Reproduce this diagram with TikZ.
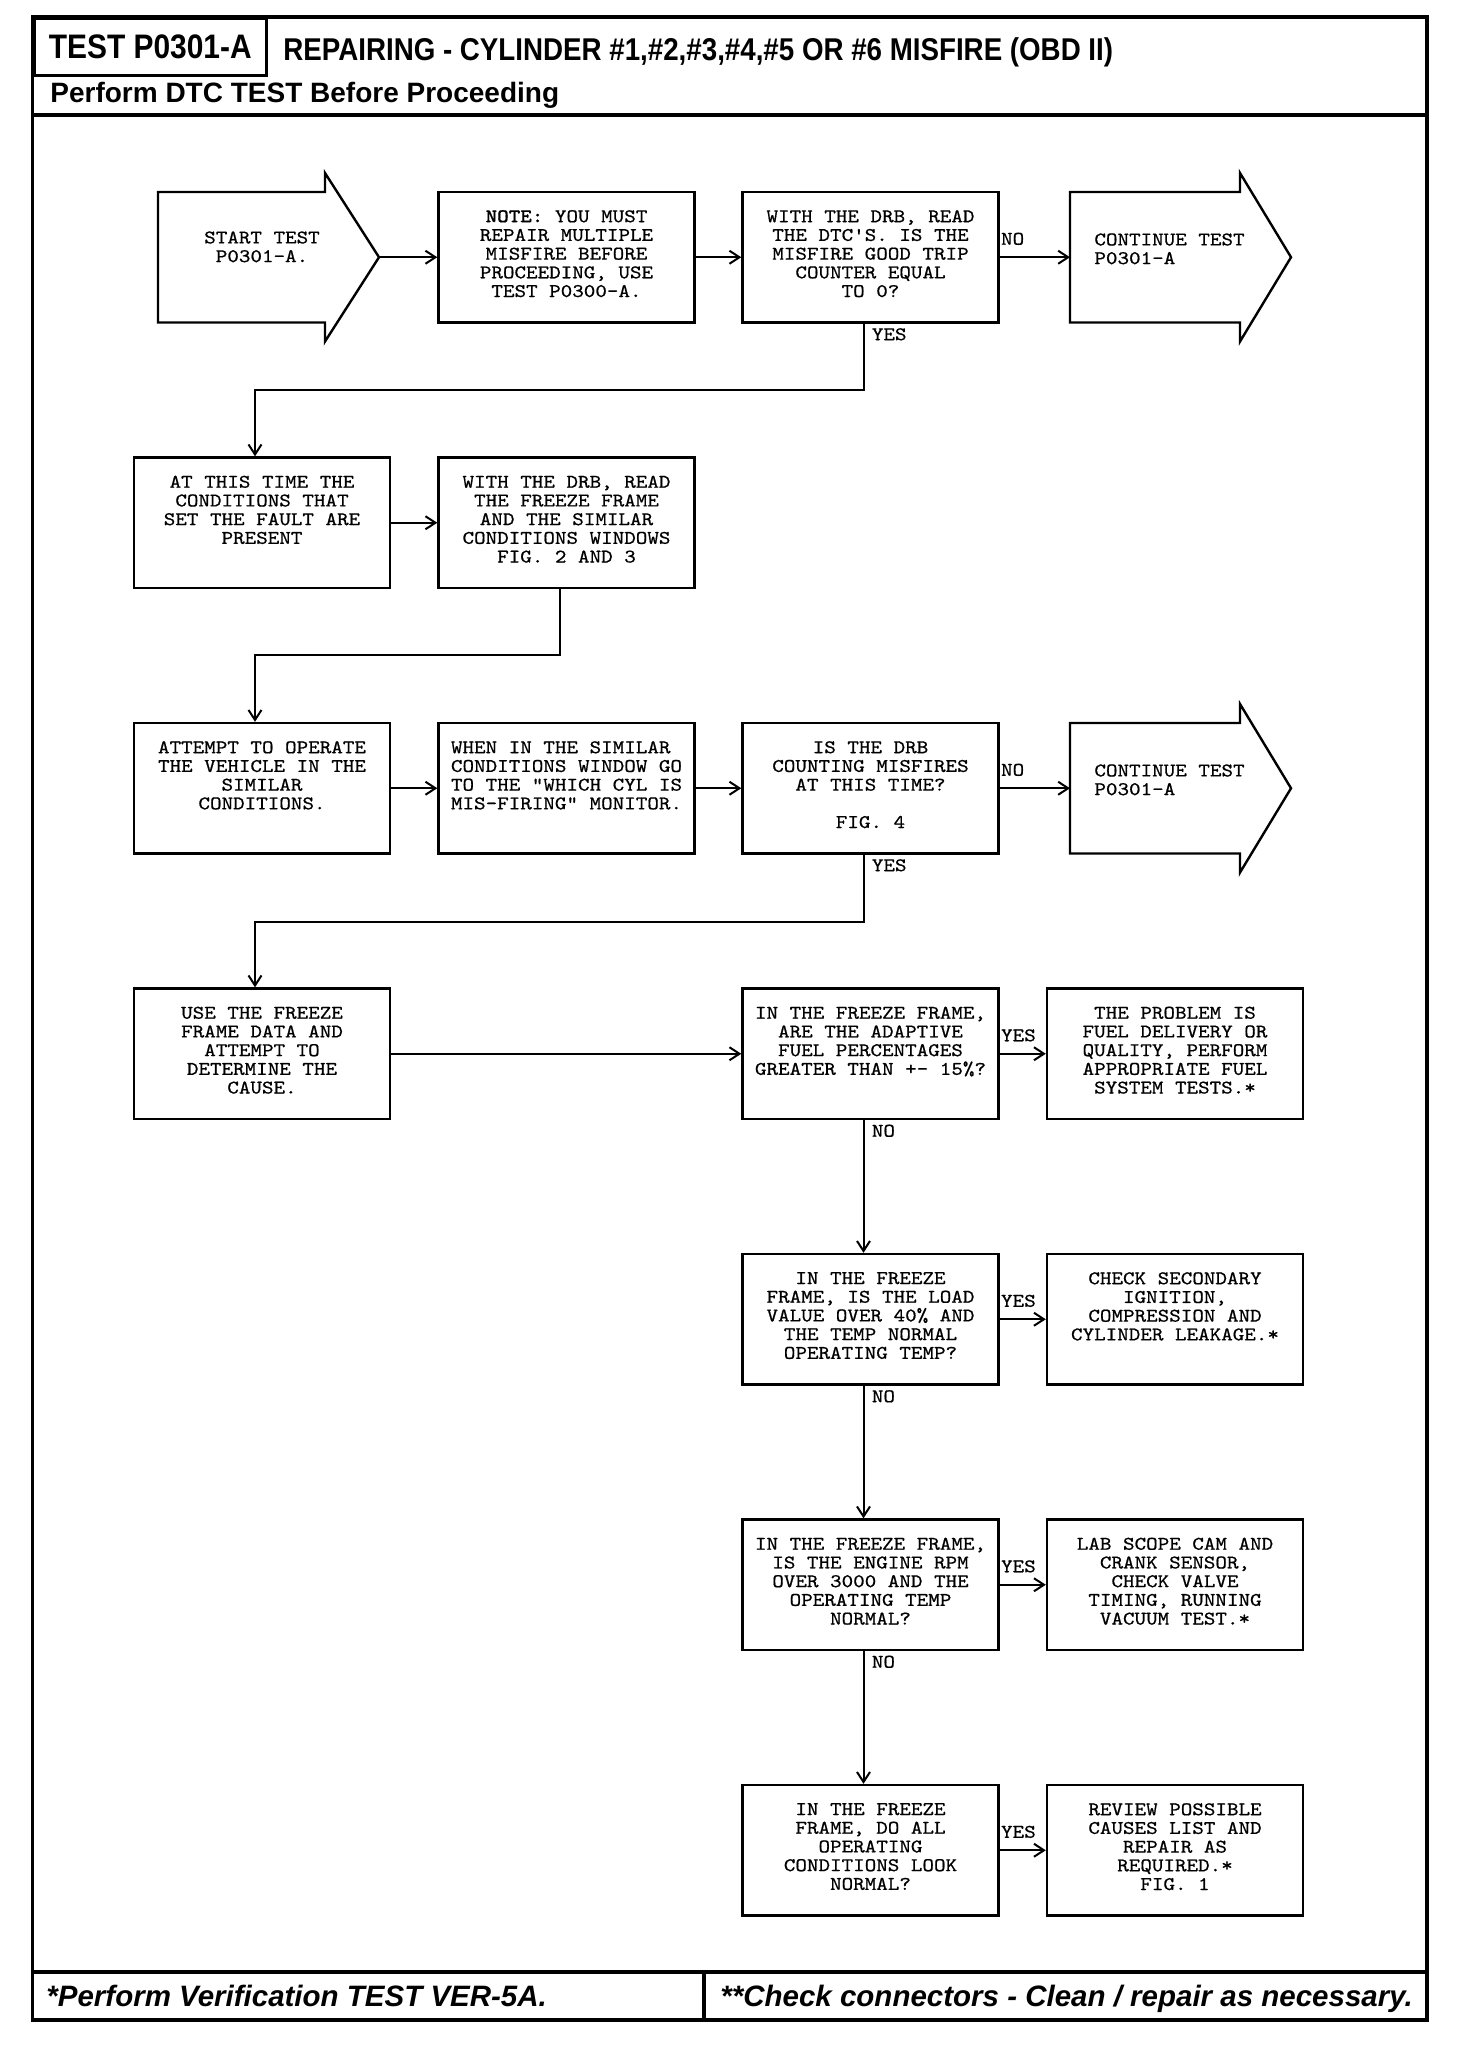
\documentclass[tikz,border=0pt]{standalone}
\usepackage{fontspec}
\setmainfont{Liberation Sans}
\newfontfamily\headfont{Liberation Sans}[FakeStretch=0.88]
\newfontfamily\typefont{lmmono10-regular.otf}[FakeStretch=1.14, FakeBold=0.7, BoldFont=lmmonolt10-bold.otf]
\newcommand\courier{\typefont\fontsize{9.65}{9.35}\selectfont}
\usetikzlibrary{arrows.meta,positioning}

\tikzset{
  box/.style={draw, line width=1.2pt, minimum width=128pt, minimum height=65.25pt, inner sep=0pt},
  txt/.style={font=\courier, align=center, inner sep=0pt},
  lbl/.style={font=\courier, inner sep=0pt, anchor=base west},
  flow/.style={->, line width=1pt},
  frame/.style={line width=1.75pt},
  banner/.style={line width=1.2pt, line join=miter},
}

\begin{document}
\begin{tikzpicture}[x=0.5pt, y=-0.5pt, >={Straight Barb[length=5pt,width=6.5pt]}]
    \useasboundingbox (0,0) rectangle (1456,2048);
    % Draw the frame, header and footer
    \draw[frame] (32.5,17) rectangle (1427,2020);
    \draw[frame] (32.5,115) -- (1427,115);
    \draw[frame] (32.5,1972) -- (1427,1972);
    \draw[frame] (704,1972) -- (704,2020);
    \node[draw, line width=1.5pt, anchor=north west, inner sep=0pt, minimum width=116.25pt, minimum height=28.5pt,
      font=\headfont\bfseries\fontsize{17}{17}\selectfont] (tst) at (32.5,17) {TEST P0301-A};
    \node[anchor=base west, inner sep=0pt, font=\headfont\bfseries\fontsize{15.75}{15.75}\selectfont] (ttl) at (283,61)
      {REPAIRING - CYLINDER \#1,\#2,\#3,\#4,\#5 OR \#6 MISFIRE (OBD II)};
    \node[anchor=base west, inner sep=0pt, font=\bfseries\fontsize{14}{14}\selectfont] (dtc) at (50,103)
      {Perform DTC TEST Before Proceeding};
    \node[anchor=base west, inner sep=0pt, font=\bfseries\itshape\fontsize{14.75}{14.75}\selectfont] (ver) at (46,2006)
      {*Perform Verification TEST VER-5A.};
    \node[anchor=base west, inner sep=0pt, font=\bfseries\itshape\fontsize{14.75}{14.75}\selectfont] (conn) at (720,2006)
      {**Check connectors - Clean / repair as necessary.};

    % Row 1
    \draw[banner] (158,192) -- (325,192) -- (325,173) -- (379,257.25) -- (325,341.5) -- (325,322.5) -- (158,322.5) -- cycle;
    \coordinate (start) at (379,257.25);
    \node[txt, anchor=north] (start txt) at (262,231) {START TEST\\P0301-A.};
    \node[box] (note) at (566.5,257.25) {};
    \node[txt, below=9.5pt of note.north] (note txt) {\textbf{NOTE:} YOU MUST\\REPAIR MULTIPLE\\MISFIRE BEFORE\\PROCEEDING, USE\\TEST P0300-A.};
    \node[box] (drb) at (870.5,257.25) {};
    \node[txt, below=9.5pt of drb.north] (drb txt) {WITH THE DRB, READ\\THE DTC'S. IS THE\\MISFIRE GOOD TRIP\\COUNTER EQUAL\\TO 0?};
    \draw[banner] (1070,192) -- (1240,192) -- (1240,173) -- (1291,257.25) -- (1240,341.5) -- (1240,322.5) -- (1070,322.5) -- cycle;
    \coordinate (cont1) at (1070,257.25);
    \node[txt, align=left, anchor=north west] (cont1 txt) at (1094,233) {CONTINUE TEST\\P0301-A};

    % Row 2
    \node[box] (cond) at (262,522.75) {};
    \node[txt, below=9.5pt of cond.north] (cond txt) {AT THIS TIME THE\\CONDITIONS THAT\\SET THE FAULT ARE\\PRESENT};
    \node[box] (ffrm) at (566.5,522.75) {};
    \node[txt, below=9.5pt of ffrm.north] (ffrm txt) {WITH THE DRB, READ\\THE FREEZE FRAME\\AND THE SIMILAR\\CONDITIONS WINDOWS\\FIG. 2 AND 3};

    % Row 3
    \node[box] (oper) at (262,788.25) {};
    \node[txt, below=9.5pt of oper.north] (oper txt) {ATTEMPT TO OPERATE\\THE VEHICLE IN THE\\SIMILAR\\CONDITIONS.};
    \node[box] (mntr) at (566.5,788.25) {};
    \node[txt, align=left, below=9.5pt of mntr.north] (mntr txt) {WHEN IN THE SIMILAR\\CONDITIONS WINDOW GO\\TO THE "WHICH CYL IS\\MIS-FIRING" MONITOR.};
    \node[box] (count) at (870.5,788.25) {};
    \node[txt, below=9.5pt of count.north] (count txt) {IS THE DRB\\COUNTING MISFIRES\\AT THIS TIME?\\[9.35pt]FIG. 4};
    \draw[banner] (1070,723) -- (1240,723) -- (1240,704) -- (1291,788.25) -- (1240,872.5) -- (1240,853.5) -- (1070,853.5) -- cycle;
    \coordinate (cont2) at (1070,788.25);
    \node[txt, align=left, anchor=north west] (cont2 txt) at (1094,764) {CONTINUE TEST\\P0301-A};

    % Row 4
    \node[box] (use) at (262,1053.75) {};
    \node[txt, below=9.5pt of use.north] (use txt) {USE THE FREEZE\\FRAME DATA AND\\ATTEMPT TO\\DETERMINE THE\\CAUSE.};
    \node[box] (fuel) at (870.5,1053.75) {};
    \node[txt, below=9.5pt of fuel.north] (fuel txt) {IN THE FREEZE FRAME,\\ARE THE ADAPTIVE\\FUEL PERCENTAGES\\GREATER THAN +- 15\%?};
    \node[box] (fdel) at (1175,1053.75) {};
    \node[txt, below=9.5pt of fdel.north] (fdel txt) {THE PROBLEM IS\\FUEL DELIVERY OR\\QUALITY, PERFORM\\APPROPRIATE FUEL\\SYSTEM TESTS.*};

    % Row 5
    \node[box] (load) at (870.5,1319.25) {};
    \node[txt, below=9.5pt of load.north] (load txt) {IN THE FREEZE\\FRAME, IS THE LOAD\\VALUE OVER 40\% AND\\THE TEMP NORMAL\\OPERATING TEMP?};
    \node[box] (ignt) at (1175,1319.25) {};
    \node[txt, below=9.5pt of ignt.north] (ignt txt) {CHECK SECONDARY\\IGNITION,\\COMPRESSION AND\\CYLINDER LEAKAGE.*};

    % Row 6
    \node[box] (rpm) at (870.5,1584.75) {};
    \node[txt, below=9.5pt of rpm.north] (rpm txt) {IN THE FREEZE FRAME,\\IS THE ENGINE RPM\\OVER 3000 AND THE\\OPERATING TEMP\\NORMAL?};
    \node[box] (scope) at (1175,1584.75) {};
    \node[txt, below=9.5pt of scope.north] (scope txt) {LAB SCOPE CAM AND\\CRANK SENSOR,\\CHECK VALVE\\TIMING, RUNNING\\VACUUM TEST.*};

    % Row 7
    \node[box] (look) at (870.5,1850.25) {};
    \node[txt, below=9.5pt of look.north] (look txt) {IN THE FREEZE\\FRAME, DO ALL\\OPERATING\\CONDITIONS LOOK\\NORMAL?};
    \node[box] (rvw) at (1175,1850.25) {};
    \node[txt, below=9.5pt of rvw.north] (rvw txt) {REVIEW POSSIBLE\\CAUSES LIST AND\\REPAIR AS\\REQUIRED.*\\FIG. 1};

    % Draw the connectors
    \draw[flow] (start) -- (note);
    \draw[flow] (note) -- (drb);
    \draw[flow] (drb) -- (cont1);
    \node[lbl] (drb no) at ([xshift=0.5pt,yshift=6.25pt]drb.east) {NO};
    \draw[flow] ([xshift=-3.5pt]drb.south) -- ++(0,66) -| ([xshift=-3.5pt]cond.north);
    \node[lbl] (drb yes) at ([xshift=0.5pt,yshift=-8.25pt]drb.south) {YES};
    \draw[flow] (cond) -- (ffrm);
    \draw[flow] ([xshift=-3.5pt]ffrm.south) -- ++(0,66) -| ([xshift=-3.5pt]oper.north);
    \draw[flow] (oper) -- (mntr);
    \draw[flow] (mntr) -- (count);
    \draw[flow] (count) -- (cont2);
    \node[lbl] (count no) at ([xshift=0.5pt,yshift=6.25pt]count.east) {NO};
    \draw[flow] ([xshift=-3.5pt]count.south) -- ++(0,67) -| ([xshift=-3.5pt]use.north);
    \node[lbl] (count yes) at ([xshift=0.5pt,yshift=-8.25pt]count.south) {YES};
    \draw[flow] (use) -- (fuel);
    \draw[flow] (fuel) -- (fdel);
    \node[lbl] (fuel yes) at ([xshift=0.5pt,yshift=6.25pt]fuel.east) {YES};
    \draw[flow] ([xshift=-3.5pt]fuel.south) -- ([xshift=-3.5pt]load.north);
    \node[lbl] (fuel no) at ([xshift=0.5pt,yshift=-8.25pt]fuel.south) {NO};
    \draw[flow] (load) -- (ignt);
    \node[lbl] (load yes) at ([xshift=0.5pt,yshift=6.25pt]load.east) {YES};
    \draw[flow] ([xshift=-3.5pt]load.south) -- ([xshift=-3.5pt]rpm.north);
    \node[lbl] (load no) at ([xshift=0.5pt,yshift=-8.25pt]load.south) {NO};
    \draw[flow] (rpm) -- (scope);
    \node[lbl] (rpm yes) at ([xshift=0.5pt,yshift=6.25pt]rpm.east) {YES};
    \draw[flow] ([xshift=-3.5pt]rpm.south) -- ([xshift=-3.5pt]look.north);
    \node[lbl] (rpm no) at ([xshift=0.5pt,yshift=-8.25pt]rpm.south) {NO};
    \draw[flow] (look) -- (rvw);
    \node[lbl] (look yes) at ([xshift=0.5pt,yshift=6.25pt]look.east) {YES};
\end{tikzpicture}
\end{document}
